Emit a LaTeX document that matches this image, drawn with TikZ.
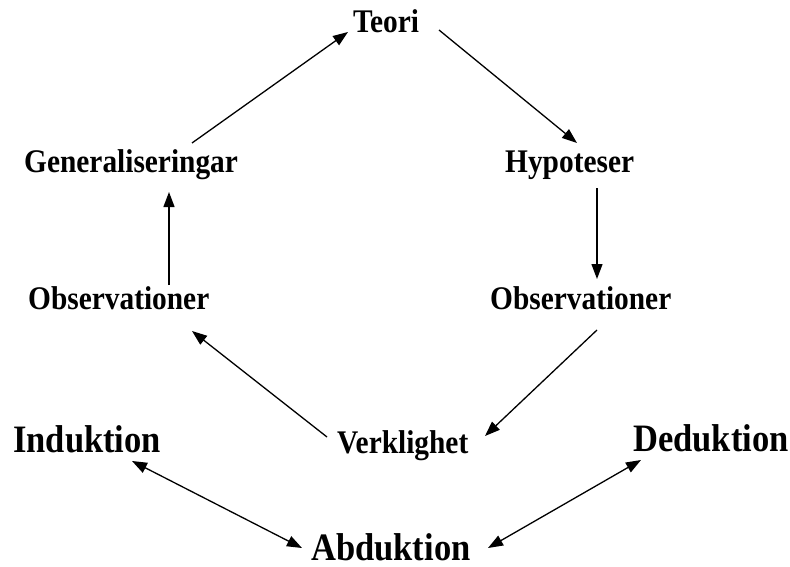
\documentclass[tikz,border=0pt]{standalone}
\usepackage{fontspec}
\setmainfont[FakeStretch=0.89]{Liberation Serif}
\usetikzlibrary{arrows.meta}
\tikzset{
  lbl/.style={anchor=base west, inner sep=0pt, font=\bfseries\fontsize{33}{34}\selectfont},
  biglbl/.style={anchor=base west, inner sep=0pt, font=\bfseries\fontsize{38.8}{40}\selectfont},
  arr/.style={line width=1.3pt, -{Triangle[length=15pt,width=11pt]}},
  darr/.style={line width=1.3pt, {Triangle[length=15pt,width=11pt]}-{Triangle[length=15pt,width=11pt]}}
}
\begin{document}
\begin{tikzpicture}[x=1pt,y=-1pt]
\useasboundingbox (0,0) rectangle (790,567);
\node[lbl] (teori) at (353,33) {Teori};
\node[lbl] (gen) at (24,172) {Generaliseringar};
\node[lbl] (hyp) at (505,172) {Hypoteser};
\node[lbl] (obsl) at (28,309) {Observationer};
\node[lbl] (obsr) at (490,309) {Observationer};
\node[lbl] (verk) at (337,453) {Verklighet};
\node[biglbl] (ind) at (13,452) {Induktion};
\node[biglbl] (ded) at (633,451) {Deduktion};
\node[biglbl] (abd) at (311,560) {Abduktion};
% connector end points
\coordinate (a1s) at (192,143); \coordinate (a1e) at (348,32);
\coordinate (a2s) at (439,30);  \coordinate (a2e) at (577,143);
\coordinate (a3s) at (597,188); \coordinate (a3e) at (597,279);
\coordinate (a4s) at (169,285); \coordinate (a4e) at (169,192);
\coordinate (a5s) at (597,330); \coordinate (a5e) at (485,436);
\coordinate (a6s) at (327,437); \coordinate (a6e) at (192,331);
\coordinate (a7s) at (132,461); \coordinate (a7e) at (302,548);
\coordinate (a8s) at (641,460); \coordinate (a8e) at (488,548);
\draw[arr] (a1s) -- (a1e);
\draw[arr] (a2s) -- (a2e);
\draw[arr] (a3s) -- (a3e);
\draw[arr] (a4s) -- (a4e);
\draw[arr] (a5s) -- (a5e);
\draw[arr] (a6s) -- (a6e);
\draw[darr] (a7s) -- (a7e);
\draw[darr] (a8s) -- (a8e);
\end{tikzpicture}
\end{document}
